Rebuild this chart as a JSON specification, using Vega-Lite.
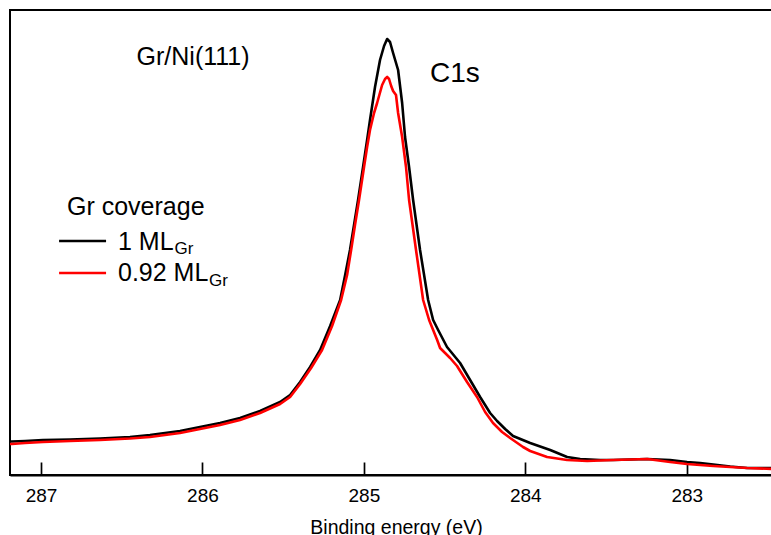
{
  "$schema": "https://vega.github.io/schema/vega-lite/v6.json",
  "width": 762,
  "height": 465,
  "autosize": "none",
  "padding": {"left": 10, "top": 10, "right": 0, "bottom": 60},
  "background": "#ffffff",
  "config": {
    "view": {"stroke": "#000000", "strokeWidth": 2},
    "font": "Liberation Sans"
  },
  "datasets": {
    "spectra": [
      {"series": "1 ML", "E": 287.2, "I": 33.5},
      {"series": "1 ML", "E": 287.18, "I": 33.5},
      {"series": "1 ML", "E": 287.099, "I": 34},
      {"series": "1 ML", "E": 286.988, "I": 35},
      {"series": "1 ML", "E": 286.82, "I": 35.5},
      {"series": "1 ML", "E": 286.634, "I": 36.5},
      {"series": "1 ML", "E": 286.449, "I": 38},
      {"series": "1 ML", "E": 286.325, "I": 40},
      {"series": "1 ML", "E": 286.139, "I": 44},
      {"series": "1 ML", "E": 286.015, "I": 48},
      {"series": "1 ML", "E": 285.891, "I": 52},
      {"series": "1 ML", "E": 285.767, "I": 57},
      {"series": "1 ML", "E": 285.643, "I": 64},
      {"series": "1 ML", "E": 285.519, "I": 73},
      {"series": "1 ML", "E": 285.457, "I": 80},
      {"series": "1 ML", "E": 285.395, "I": 93},
      {"series": "1 ML", "E": 285.333, "I": 108},
      {"series": "1 ML", "E": 285.271, "I": 125},
      {"series": "1 ML", "E": 285.209, "I": 149},
      {"series": "1 ML", "E": 285.147, "I": 175},
      {"series": "1 ML", "E": 285.116, "I": 200},
      {"series": "1 ML", "E": 285.086, "I": 225},
      {"series": "1 ML", "E": 285.061, "I": 250},
      {"series": "1 ML", "E": 285.036, "I": 275},
      {"series": "1 ML", "E": 285.005, "I": 308},
      {"series": "1 ML", "E": 284.98, "I": 335},
      {"series": "1 ML", "E": 284.962, "I": 355},
      {"series": "1 ML", "E": 284.931, "I": 388},
      {"series": "1 ML", "E": 284.9, "I": 415},
      {"series": "1 ML", "E": 284.875, "I": 429},
      {"series": "1 ML", "E": 284.856, "I": 436},
      {"series": "1 ML", "E": 284.838, "I": 433},
      {"series": "1 ML", "E": 284.819, "I": 422},
      {"series": "1 ML", "E": 284.788, "I": 405},
      {"series": "1 ML", "E": 284.763, "I": 372},
      {"series": "1 ML", "E": 284.745, "I": 338},
      {"series": "1 ML", "E": 284.72, "I": 308},
      {"series": "1 ML", "E": 284.695, "I": 275},
      {"series": "1 ML", "E": 284.652, "I": 225},
      {"series": "1 ML", "E": 284.602, "I": 175},
      {"series": "1 ML", "E": 284.571, "I": 155},
      {"series": "1 ML", "E": 284.54, "I": 145},
      {"series": "1 ML", "E": 284.485, "I": 128},
      {"series": "1 ML", "E": 284.404, "I": 112},
      {"series": "1 ML", "E": 284.342, "I": 95},
      {"series": "1 ML", "E": 284.28, "I": 78},
      {"series": "1 ML", "E": 284.218, "I": 62},
      {"series": "1 ML", "E": 284.175, "I": 54},
      {"series": "1 ML", "E": 284.125, "I": 46},
      {"series": "1 ML", "E": 284.076, "I": 39},
      {"series": "1 ML", "E": 283.97, "I": 32},
      {"series": "1 ML", "E": 283.846, "I": 25},
      {"series": "1 ML", "E": 283.741, "I": 18},
      {"series": "1 ML", "E": 283.66, "I": 16},
      {"series": "1 ML", "E": 283.537, "I": 15},
      {"series": "1 ML", "E": 283.456, "I": 15},
      {"series": "1 ML", "E": 283.351, "I": 15.5},
      {"series": "1 ML", "E": 283.245, "I": 16},
      {"series": "1 ML", "E": 283.103, "I": 15},
      {"series": "1 ML", "E": 282.998, "I": 13},
      {"series": "1 ML", "E": 282.917, "I": 12},
      {"series": "1 ML", "E": 282.836, "I": 10.5},
      {"series": "1 ML", "E": 282.731, "I": 8.5},
      {"series": "1 ML", "E": 282.626, "I": 7},
      {"series": "1 ML", "E": 282.45, "I": 7},
      {"series": "0.92 ML", "E": 287.2, "I": 31},
      {"series": "0.92 ML", "E": 287.18, "I": 31},
      {"series": "0.92 ML", "E": 287.099, "I": 32},
      {"series": "0.92 ML", "E": 286.988, "I": 33},
      {"series": "0.92 ML", "E": 286.82, "I": 34},
      {"series": "0.92 ML", "E": 286.634, "I": 35},
      {"series": "0.92 ML", "E": 286.449, "I": 36.5},
      {"series": "0.92 ML", "E": 286.325, "I": 38},
      {"series": "0.92 ML", "E": 286.139, "I": 42},
      {"series": "0.92 ML", "E": 286.015, "I": 46},
      {"series": "0.92 ML", "E": 285.891, "I": 50},
      {"series": "0.92 ML", "E": 285.767, "I": 55},
      {"series": "0.92 ML", "E": 285.643, "I": 62},
      {"series": "0.92 ML", "E": 285.519, "I": 71},
      {"series": "0.92 ML", "E": 285.457, "I": 78},
      {"series": "0.92 ML", "E": 285.395, "I": 91},
      {"series": "0.92 ML", "E": 285.327, "I": 107},
      {"series": "0.92 ML", "E": 285.259, "I": 125},
      {"series": "0.92 ML", "E": 285.197, "I": 149},
      {"series": "0.92 ML", "E": 285.141, "I": 175},
      {"series": "0.92 ML", "E": 285.104, "I": 200},
      {"series": "0.92 ML", "E": 285.079, "I": 225},
      {"series": "0.92 ML", "E": 285.055, "I": 250},
      {"series": "0.92 ML", "E": 285.03, "I": 275},
      {"series": "0.92 ML", "E": 284.999, "I": 308},
      {"series": "0.92 ML", "E": 284.98, "I": 328},
      {"series": "0.92 ML", "E": 284.962, "I": 345},
      {"series": "0.92 ML", "E": 284.937, "I": 362},
      {"series": "0.92 ML", "E": 284.918, "I": 372},
      {"series": "0.92 ML", "E": 284.887, "I": 390},
      {"series": "0.92 ML", "E": 284.869, "I": 396},
      {"series": "0.92 ML", "E": 284.856, "I": 398},
      {"series": "0.92 ML", "E": 284.844, "I": 396},
      {"series": "0.92 ML", "E": 284.831, "I": 389},
      {"series": "0.92 ML", "E": 284.819, "I": 384},
      {"series": "0.92 ML", "E": 284.801, "I": 380},
      {"series": "0.92 ML", "E": 284.788, "I": 362},
      {"series": "0.92 ML", "E": 284.763, "I": 338},
      {"series": "0.92 ML", "E": 284.739, "I": 308},
      {"series": "0.92 ML", "E": 284.72, "I": 275},
      {"series": "0.92 ML", "E": 284.677, "I": 225},
      {"series": "0.92 ML", "E": 284.633, "I": 175},
      {"series": "0.92 ML", "E": 284.596, "I": 155},
      {"series": "0.92 ML", "E": 284.571, "I": 145},
      {"series": "0.92 ML", "E": 284.546, "I": 135},
      {"series": "0.92 ML", "E": 284.528, "I": 127},
      {"series": "0.92 ML", "E": 284.497, "I": 122},
      {"series": "0.92 ML", "E": 284.466, "I": 117},
      {"series": "0.92 ML", "E": 284.423, "I": 109},
      {"series": "0.92 ML", "E": 284.361, "I": 93},
      {"series": "0.92 ML", "E": 284.299, "I": 78},
      {"series": "0.92 ML", "E": 284.249, "I": 63},
      {"series": "0.92 ML", "E": 284.2, "I": 52},
      {"series": "0.92 ML", "E": 284.144, "I": 43},
      {"series": "0.92 ML", "E": 284.094, "I": 37},
      {"series": "0.92 ML", "E": 284.014, "I": 28},
      {"series": "0.92 ML", "E": 283.97, "I": 24},
      {"series": "0.92 ML", "E": 283.865, "I": 18},
      {"series": "0.92 ML", "E": 283.741, "I": 15},
      {"series": "0.92 ML", "E": 283.617, "I": 14},
      {"series": "0.92 ML", "E": 283.456, "I": 15},
      {"series": "0.92 ML", "E": 283.245, "I": 16},
      {"series": "0.92 ML", "E": 283.103, "I": 13},
      {"series": "0.92 ML", "E": 282.998, "I": 11},
      {"series": "0.92 ML", "E": 282.836, "I": 9},
      {"series": "0.92 ML", "E": 282.626, "I": 7},
      {"series": "0.92 ML", "E": 282.45, "I": 6}
    ],
    "legendLines": [
      {"series": "1 ML", "E1": 286.888, "E2": 286.597, "I": 234},
      {"series": "0.92 ML", "E1": 286.888, "E2": 286.597, "I": 202}
    ]
  },
  "encoding": {
    "x": {
      "field": "E",
      "type": "quantitative",
      "scale": {"domain": [282.472, 287.192], "reverse": true, "zero": false, "nice": false},
      "axis": {
        "title": "Binding energy (eV)",
        "values": [283, 284, 285, 286, 287],
        "format": "d",
        "grid": false,
        "domainColor": "#000000",
        "domainWidth": 2,
        "tickColor": "#000000",
        "tickWidth": 1.7,
        "tickSize": -13,
        "labelFont": "Liberation Sans",
        "labelFontSize": 19,
        "labelColor": "#000000",
        "labelPadding": 24,
        "labelFlush": false,
        "titleFont": "Liberation Sans",
        "titleFontSize": 19.5,
        "titleFontWeight": "normal",
        "titleColor": "#000000",
        "titlePadding": 13,
        "titleX": 386
      }
    },
    "y": {
      "field": "I",
      "type": "quantitative",
      "scale": {"domain": [0, 465], "nice": false, "zero": false},
      "axis": null
    }
  },
  "layer": [
    {
      "data": {"name": "spectra"},
      "transform": [{"filter": "datum.series === '1 ML'"}],
      "mark": {"type": "line", "strokeWidth": 2.6, "clip": true, "strokeJoin": "round"},
      "encoding": {
        "color": {"field": "series", "type": "nominal", "scale": {"domain": ["1 ML", "0.92 ML"], "range": ["#000000", "#ff0000"]}, "legend": null}
      }
    },
    {
      "data": {"name": "spectra"},
      "transform": [{"filter": "datum.series === '0.92 ML'"}],
      "mark": {"type": "line", "strokeWidth": 2.6, "clip": true, "strokeJoin": "round"},
      "encoding": {
        "color": {"field": "series", "type": "nominal", "legend": null}
      }
    },
    {
      "data": {"name": "legendLines"},
      "mark": {"type": "rule", "strokeWidth": 2.5},
      "encoding": {
        "x": {"field": "E1", "type": "quantitative"},
        "x2": {"field": "E2"},
        "color": {"field": "series", "type": "nominal", "legend": null}
      }
    },
    {
      "data": {"values": [
        {"text": "Gr coverage", "E": 286.839, "I": 260},
        {"text": "1 ML", "E": 286.523, "I": 225},
        {"text": "0.92 ML", "E": 286.523, "I": 194}
      ]},
      "mark": {"type": "text", "font": "Liberation Sans", "fontSize": 25, "align": "left", "baseline": "alphabetic", "color": "#000000"},
      "encoding": {"text": {"field": "text"}}
    },
    {
      "data": {"values": [
        {"text": "Gr", "E": 286.173, "I": 221},
        {"text": "Gr", "E": 285.959, "I": 189}
      ]},
      "mark": {"type": "text", "font": "Liberation Sans", "fontSize": 17, "align": "left", "baseline": "alphabetic", "color": "#000000"},
      "encoding": {"text": {"field": "text"}}
    },
    {
      "data": {"values": [
        {"text": "Gr/Ni(111)", "E": 286.058, "I": 410}
      ]},
      "mark": {"type": "text", "font": "Liberation Sans", "fontSize": 25, "align": "center", "baseline": "alphabetic", "color": "#000000"},
      "encoding": {"text": {"field": "text"}}
    },
    {
      "data": {"values": [
        {"text": "C1s", "E": 284.59, "I": 393}
      ]},
      "mark": {"type": "text", "font": "Liberation Sans", "fontSize": 28, "align": "left", "baseline": "alphabetic", "color": "#000000"},
      "encoding": {"text": {"field": "text"}}
    }
  ]
}
